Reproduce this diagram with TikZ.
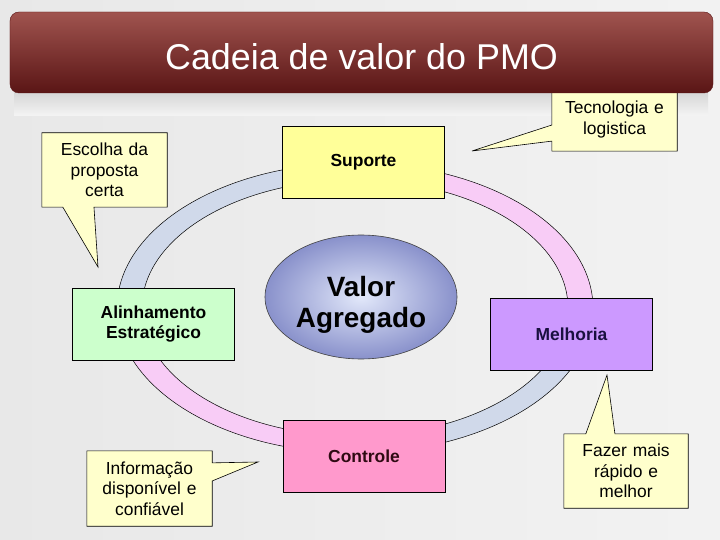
\documentclass[tikz,border=0pt]{standalone}
\usepackage{fontspec}
\setmainfont{Liberation Sans}
\usepackage{tikz}
\usetikzlibrary{calc,shapes.geometric,backgrounds}
\definecolor{TtlA}{HTML}{A0544F}
\definecolor{TtlM}{HTML}{7E2A28}
\definecolor{TtlB}{HTML}{5A1515}
\definecolor{Note}{HTML}{FFFFCC}
\definecolor{Sup}{HTML}{FFFF99}
\definecolor{Ali}{HTML}{CCFFCC}
\definecolor{Mel}{HTML}{CC99FF}
\definecolor{Con}{HTML}{FF99CC}
\definecolor{RingB}{HTML}{D0D9EA}
\definecolor{RingP}{HTML}{F8CCF6}
\definecolor{ValIn}{HTML}{E2E8FA}
\definecolor{ValOut}{HTML}{8991CB}
\definecolor{MelTxt}{HTML}{1A1040}
\definecolor{ConTxt}{HTML}{2E0A12}

\begin{document}
\begin{tikzpicture}[x=1bp,y=-1bp,
  title/.style={rounded corners=9bp,minimum width=703bp,minimum height=81bp,top color=TtlA,middle color=TtlM,bottom color=TtlB,draw=TtlB,text=white,text height=35bp,text depth=0pt,font=\fontsize{36}{40}\selectfont},
  box/.style={draw=black,line width=.6pt,minimum width=162bp,minimum height=72bp,inner sep=0pt,align=center,font=\fontsize{17.5}{20.5}\selectfont\bfseries},
  valor/.style={ellipse,draw=black!75,line width=.6pt,inner color=ValIn,outer color=ValOut,minimum width=192bp,minimum height=124bp,inner sep=0pt},
  valtext/.style={align=center,inner sep=0pt,font=\fontsize{28}{31}\selectfont\bfseries},
  note/.style={text width=125bp,minimum height=74bp,inner sep=0pt,align=center,font=\fontsize{17.5}{20.5}\selectfont},
  notefill/.style={fill=Note,draw=black,line width=.6pt},
  ring/.style={draw=black,line width=.5pt}]
\useasboundingbox (0,0) rectangle (720,540);
\begin{scope}[on background layer]
\shade[left color=black!9,middle color=white,right color=black!5] (0,0) rectangle (720,540);
\shade[top color=black!16,bottom color=black!4] (14,93) rectangle (708,116);
\end{scope}
\node[title] (ttl) at (361.5,52.5) {Cadeia de valor do PMO};

\coordinate (rc) at (355,308);
\foreach \a/\c in {180/RingB,270/RingP,360/RingB,450/RingP}
  \draw[ring,fill=\c] ($(rc)+(\a:238 and 145)$) arc[start angle=\a,delta angle=90,x radius=238,y radius=145]
    -- ($(rc)+(\a+90:213 and 128)$) arc[start angle=\a+90,delta angle=-90,x radius=213,y radius=128] -- cycle;

\node[box,fill=Sup] (sup) at (363.5,162) {Suporte};
\node[box,fill=Ali] (ali) at (153.5,324) {Alinhamento\\Estratégico};
\node[box,fill=Mel,text=MelTxt] (mel) at (571.5,334) {Melhoria};
\node[box,fill=Con,text=ConTxt] (con) at (364,456.5) {Controle};
\node[valor] (val) at (361,297) {};
\node[valtext] (valtxt) at (361,305) {Valor\\Agregado};

\node[note] (esc) at (104.5,170) {Escolha da\\proposta\\certa};
\node[note,minimum height=63bp] (tec) at (614.5,119.5) {Tecnologia e\\logistica};
\node[note,text width=124bp] (faz) at (626,471) {Fazer mais\\rápido e\\melhor};
\node[note,minimum height=75bp] (inf) at (149.5,488.5) {Informação\\disponível e\\confiável};
\coordinate (escTip) at (98,267);
\coordinate (tecTip) at (472,151);
\coordinate (fazTip) at (607,375);
\coordinate (infTip) at (258,462);
\begin{scope}[on background layer]
\draw[notefill] (esc.north west) -- (esc.north east) -- (esc.south east) -- ($(esc.south west)!.416!(esc.south east)$)
  -- (escTip) -- ($(esc.south west)!.168!(esc.south east)$) -- (esc.south west) -- cycle;
\draw[notefill] (tec.north west) -- (tec.north east) -- (tec.south east) -- (tec.south west) -- ($(tec.north west)!.841!(tec.south west)$)
  -- (tecTip) -- ($(tec.north west)!.587!(tec.south west)$) -- cycle;
\draw[notefill] (faz.north west) -- ($(faz.north west)!.177!(faz.north east)$) -- (fazTip)
  -- ($(faz.north west)!.411!(faz.north east)$) -- (faz.north east) -- (faz.south east) -- (faz.south west) -- cycle;
\draw[notefill] (inf.north west) -- (inf.north east) -- ($(inf.north east)!.16!(inf.south east)$) -- (infTip)
  -- ($(inf.north east)!.4!(inf.south east)$) -- (inf.south east) -- (inf.south west) -- cycle;
\end{scope}
\end{tikzpicture}
\end{document}
